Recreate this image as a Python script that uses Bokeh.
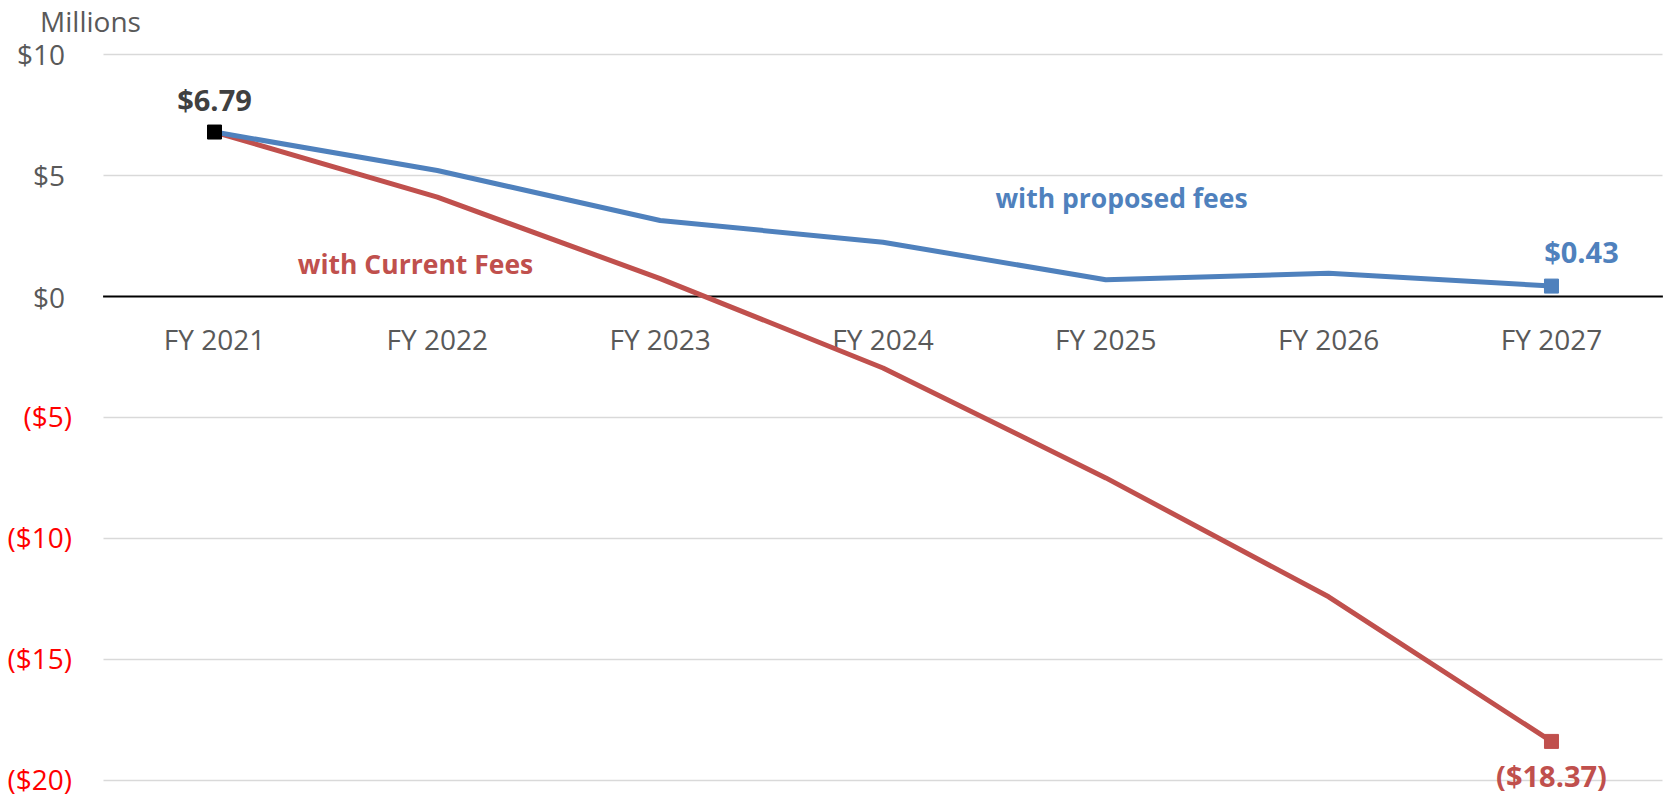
from bokeh.plotting import figure
from bokeh.models import Label, Range1d, Grid, FixedTicker
from bokeh.core.properties import value
from bokeh.embed import file_html
from bokeh.resources import INLINE

categories = ["FY 2021", "FY 2022", "FY 2023", "FY 2024", "FY 2025", "FY 2026", "FY 2027"]
proposed_fees = [6.79, 5.20, 3.14, 2.24, 0.69, 0.96, 0.43]
current_fees = [6.79, 4.10, 0.74, -2.95, -7.49, -12.40, -18.37]
y_ticks = [-20, -15, -10, -5, 0, 5, 10]

BLUE = "#4F81BD"
RED = "#C0504D"
GREY = "#595959"
FONT = "Open Sans"
FS = "28px"
FS_BOLD = "29px"
FS_NAME = "26.5px"

W, H = 1667, 797
# layout of the plotting area in canvas pixels
X_FIRST, X_STEP = 214.0, 222.83   # centre of first category, category spacing
Y_ZERO, Y_STEP = 296.0, 24.22     # pixel row of $0, pixels per million

x_start = -X_FIRST / X_STEP
x_end = (W - X_FIRST) / X_STEP
y_end = Y_ZERO / Y_STEP
y_start = -(H - Y_ZERO) / Y_STEP

xs = list(range(len(categories)))

p = figure(width=W, height=H, x_range=Range1d(x_start, x_end),
           y_range=Range1d(y_start, y_end), output_backend="svg",
           toolbar_location=None, min_border=0)
p.outline_line_color = None
p.background_fill_color = "white"
p.border_fill_color = "white"
p.xaxis.visible = False
p.yaxis.visible = False
p.xgrid.grid_line_color = None
p.ygrid.grid_line_color = None

# horizontal gridlines restricted to the plot area
left_edge = xs[0] - 0.5
right_edge = xs[-1] + 0.5
grid_ticks = [t for t in y_ticks if t != 0]
if "cross_bounds" in Grid.properties():
    g = Grid(dimension=1, ticker=FixedTicker(ticks=grid_ticks), grid_line_color="#D9D9D9",
             grid_line_width=1.5, cross_bounds=(left_edge, right_edge))
    p.add_layout(g)
else:
    p.segment(x0=[left_edge] * len(grid_ticks), x1=[right_edge] * len(grid_ticks),
              y0=grid_ticks, y1=grid_ticks, line_color="#D9D9D9", line_width=1.5)

# zero line
p.segment(x0=[left_edge], x1=[right_edge], y0=[0], y1=[0], line_color="black", line_width=1.8)

# y tick labels: positive grey, negative red in parentheses
pos_ticks = [t for t in y_ticks if t >= 0]
neg_ticks = [t for t in y_ticks if t < 0]
p.text(x=[left_edge - 38 / X_STEP] * len(pos_ticks), y=pos_ticks,
       text=[f"${t}" for t in pos_ticks], text_font=value(FONT), text_font_size=value(FS),
       text_color=GREY, text_align="right", text_baseline="middle")
p.text(x=[left_edge - 31 / X_STEP] * len(neg_ticks), y=neg_ticks,
       text=[f"(${-t})" for t in neg_ticks], text_font=value(FONT), text_font_size=value(FS),
       text_color="#FF0000", text_align="right", text_baseline="middle", y_offset=-2)

p.add_layout(Label(x=left_edge - 63 / X_STEP, y=y_ticks[-1] + 33 / Y_STEP, text="Millions",
                   text_align="left", text_baseline="middle", text_font=FONT,
                   text_font_size=FS, text_color=GREY))

# category labels just below the zero line
p.text(x=xs, y=[-42 / Y_STEP] * len(xs), text=categories,
       text_font=value(FONT), text_font_size=value(FS), text_color=GREY,
       text_align="center", text_baseline="middle")

# lines
p.line(x=xs, y=current_fees, line_color=RED, line_width=5)
p.line(x=xs, y=proposed_fees, line_color=BLUE, line_width=5)

p.scatter(x=[xs[-1]], y=[current_fees[-1]], marker="square", size=14,
          fill_color=RED, line_color=RED)
p.scatter(x=[xs[-1]], y=[proposed_fees[-1]], marker="square", size=14,
          fill_color=BLUE, line_color=BLUE)
p.scatter(x=[xs[0]], y=[proposed_fees[0]], marker="square", size=14,
          fill_color="black", line_color="black")

# data labels
p.add_layout(Label(x=xs[0], y=proposed_fees[0] + 33 / Y_STEP, text=f"${proposed_fees[0]:.2f}",
                   text_align="center", text_baseline="middle", text_font=FONT,
                   text_font_size=FS_BOLD, text_font_style="bold", text_color="#404040"))
p.add_layout(Label(x=xs[-1] + 30 / X_STEP, y=proposed_fees[-1] + 35 / Y_STEP,
                   text=f"${proposed_fees[-1]:.2f}",
                   text_align="center", text_baseline="middle", text_font=FONT,
                   text_font_size=FS_BOLD, text_font_style="bold", text_color=BLUE))
p.add_layout(Label(x=xs[-1], y=current_fees[-1] - 34 / Y_STEP,
                   text=f"(${-current_fees[-1]:.2f})",
                   text_align="center", text_baseline="middle", text_font=FONT,
                   text_font_size=FS_BOLD, text_font_style="bold", text_color=RED))

# series names
p.add_layout(Label(x=(415 - X_FIRST) / X_STEP, y=1.36, text="with Current Fees",
                   text_align="center", text_baseline="middle", text_font=FONT,
                   text_font_size=FS_NAME, text_font_style="bold", text_color=RED))
p.add_layout(Label(x=(1121 - X_FIRST) / X_STEP, y=4.05, text="with proposed fees",
                   text_align="center", text_baseline="middle", text_font=FONT,
                   text_font_size=FS_NAME, text_font_style="bold", text_color=BLUE))

open("out.html", "w").write(file_html(p, INLINE))
